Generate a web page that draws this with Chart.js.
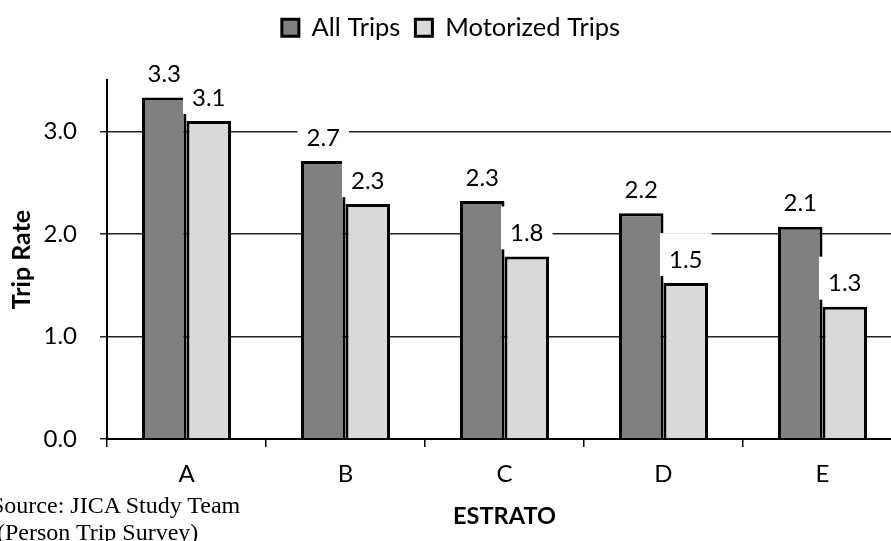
<!DOCTYPE html>
<html>
<head>
<meta charset="utf-8">
<script src="https://cdn.jsdelivr.net/npm/chart.js@4/dist/chart.umd.min.js"></script>
<style>
  html, body { margin: 0; padding: 0; background: #fff; overflow: hidden; width: 891px; height: 541px; }
  #wrap { position: relative; width: 909px; height: 541px; }
  #source {
    position: absolute; left: -9px; top: 492px;
    font-family: "Liberation Serif", "DejaVu Serif", serif; font-size: 24px; line-height: 27px;
    color: #000; white-space: nowrap;
  }
</style>
</head>
<body>
<div id="wrap">
  <canvas id="chart" width="909" height="541"></canvas>
  <div id="source">Source: JICA Study Team<br>&nbsp;(Person Trip Survey)</div>
</div>
<script>
// Trip rate by socio-economic stratum
const categories = ['A', 'B', 'C', 'D', 'E'];
const allTrips = [3.33, 2.71, 2.32, 2.20, 2.07];
const motorizedTrips = [3.10, 2.29, 1.78, 1.52, 1.29];
const yTicks = [0, 1, 2, 3];

const FONT = 'Lato, "Open Sans", sans-serif';

// Value labels on white boxes above each bar
const valueLabels = {
  id: 'valueLabels',
  afterDatasetsDraw(chart) {
    const ctx = chart.ctx;
    ctx.save();
    ctx.font = '24px ' + FONT;
    ctx.textAlign = 'center';
    ctx.textBaseline = 'alphabetic';
    chart.data.datasets.forEach((ds, di) => {
      const meta = chart.getDatasetMeta(di);
      meta.data.forEach((bar, i) => {
        const text = ds.data[i].toFixed(1);
        const w = ctx.measureText(text).width + 18;
        const h = 43;
        const bottom = bar.y - 7;
        ctx.fillStyle = '#fff';
        ctx.fillRect(bar.x - w / 2, bottom - h, w, h);
        ctx.fillStyle = '#000';
        ctx.fillText(text, bar.x, bar.y - 15.5);
      });
    });
    ctx.restore();
  }
};

// Fixed legend band height so the plot area starts at the right place
const legendBand = {
  id: 'legendBand',
  afterInit(chart) {
    const lg = chart.legend;
    if (!lg) return;
    const fit = lg.fit;
    lg.fit = function () { fit.call(this); this.height = 80; };
  }
};

new Chart(document.getElementById('chart'), {
  type: 'bar',
  data: {
    labels: categories,
    datasets: [
      {
        label: 'All Trips',
        data: allTrips,
        backgroundColor: '#808080',
        borderColor: '#000',
        borderWidth: 3,
        borderSkipped: 'start'
      },
      {
        label: 'Motorized Trips',
        data: motorizedTrips,
        backgroundColor: '#d9d9d9',
        borderColor: '#000',
        borderWidth: 3,
        borderSkipped: 'start'
      }
    ]
  },
  options: {
    responsive: false,
    animation: false,
    devicePixelRatio: 1,
    layout: { padding: { left: 0, right: 7, top: 0, bottom: 0 } },
    datasets: { bar: { barPercentage: 1.0, categoryPercentage: 0.56 } },
    plugins: {
      legend: {
        display: true,
        position: 'top',
        labels: {
          font: { family: FONT, size: 25.5 },
          color: '#000',
          boxWidth: 17,
          boxHeight: 17,
          padding: 15
        }
      },
      tooltip: { enabled: false }
    },
    scales: {
      x: {
        grid: { display: true, drawOnChartArea: false, drawTicks: true, tickLength: 8, color: '#000', lineWidth: 1.5, offset: true },
        border: { display: true, color: '#000', width: 2 },
        ticks: { font: { family: FONT, size: 24 }, color: '#000', padding: 13 },
        title: { display: true, text: 'ESTRATO', font: { family: FONT, size: 23.5, weight: 'bold' }, color: '#000', padding: { top: 0, bottom: 10 } },
        afterFit(scale) { scale.height = 102; }
      },
      y: {
        min: 0,
        max: 3.5,
        afterBuildTicks(scale) { scale.ticks = yTicks.map(v => ({ value: v })); },
        grid: { color: '#222', lineWidth: 1.5, tickLength: 7, drawTicks: true },
        border: { display: true, color: '#000', width: 2 },
        ticks: {
          font: { family: FONT, size: 24 },
          color: '#000',
          padding: 23,
          callback: v => Number(v).toFixed(1)
        },
        title: { display: true, text: 'Trip Rate', font: { family: FONT, size: 25, weight: 'bold' }, color: '#000', padding: { top: 7, bottom: 0 } },
        afterFit(scale) { scale.width = 107; }
      }
    }
  },
  plugins: [legendBand, valueLabels]
});
</script>
</body>
</html>
